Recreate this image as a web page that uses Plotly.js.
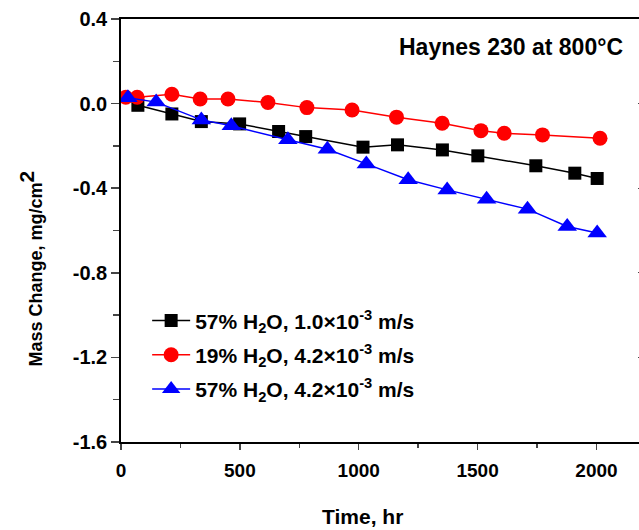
<!DOCTYPE html>
<html>
<head>
<meta charset="utf-8">
<script src="https://cdn.plot.ly/plotly-3.0.1.min.js"></script>
<style>html,body{margin:0;padding:0;overflow:hidden;background:#fff;}</style>
</head>
<body>
<div id="chart" style="width:645px;height:530px;"></div>
<script>
// Series: 57% H2O, 1.0e-3 m/s (black squares)
const timeBlack = [71, 214, 338, 499, 663, 777, 1018, 1163, 1352, 1501, 1745, 1909, 2003];
const massBlack = [-0.008, -0.049, -0.085, -0.096, -0.132, -0.156, -0.206, -0.195, -0.219, -0.247, -0.294, -0.329, -0.354];
// Series: 19% H2O, 4.2e-3 m/s (red circles)
const timeRed = [20, 68, 214, 333, 450, 618, 782, 972, 1159, 1351, 1514, 1612, 1773, 2015];
const massRed = [0.03, 0.03, 0.044, 0.022, 0.022, 0.005, -0.019, -0.030, -0.064, -0.093, -0.128, -0.140, -0.148, -0.164];
// Series: 57% H2O, 4.2e-3 m/s (blue triangles)
const timeBlue = [29, 148, 338, 464, 702, 868, 1032, 1208, 1372, 1538, 1710, 1877, 2003];
const massBlue = [0.028, 0.007, -0.077, -0.105, -0.171, -0.216, -0.285, -0.360, -0.408, -0.452, -0.499, -0.581, -0.612];

const seriesNames = [
  '57% H<sub>2</sub>O, 1.0×10<sup>-3</sup> m/s',
  '19% H<sub>2</sub>O, 4.2×10<sup>-3</sup> m/s',
  '57% H<sub>2</sub>O, 4.2×10<sup>-3</sup> m/s'
];
const xTickVals = [0, 500, 1000, 1500, 2000];
const yTickVals = [0.4, 0.0, -0.4, -0.8, -1.2, -1.6];
const yTickText = ['0.4', '0.0', '-0.4', '-0.8', '-1.2', '-1.6'];

const FONT = 'Liberation Sans, Arial, sans-serif';

const traces = [
  {x: timeBlack, y: massBlack, name: seriesNames[0], legendgroup: 'a', mode: 'lines+markers',
   line: {color: '#000000', width: 1.5}, marker: {symbol: 'square', size: 13, color: '#000000'}},
  {x: timeRed, y: massRed, name: seriesNames[1], legendgroup: 'b', mode: 'lines+markers',
   line: {color: '#ff0000', width: 1.5}, marker: {symbol: 'circle', size: 15, color: '#ff0000'}},
  {x: timeBlue, y: massBlue, name: seriesNames[2], legendgroup: 'c', mode: 'lines+markers',
   line: {color: '#0000ff', width: 1.5}, marker: {symbol: 'triangle-up', size: 17, color: '#0000ff'}},
  {x: [0], y: [0], yaxis: 'y2', showlegend: false, hoverinfo: 'skip', mode: 'markers', marker: {opacity: 0}}
];

const layout = {
  width: 645, height: 530,
  margin: {l: 121, r: 1, t: 19, b: 87.5},
  paper_bgcolor: '#ffffff', plot_bgcolor: '#ffffff',
  font: {family: FONT, color: '#000', size: 16},
  showlegend: true,
  legend: {x: 0.05, y: 0.335, xanchor: 'left', yanchor: 'top', bgcolor: 'rgba(0,0,0,0)',
           font: {family: FONT, size: 21, color: '#000', weight: 'bold'},
           tracegroupgap: 4, itemwidth: 38},
  xaxis: {range: [0, 2200], tickvals: xTickVals, ticks: 'outside', ticklen: 6, tickwidth: 1.5,
          minor: {dtick: 250, ticks: 'outside', ticklen: 4, tickwidth: 1.5},
          showline: true, linewidth: 1.8, linecolor: '#000', mirror: true, showgrid: false, zeroline: false,
          tickfont: {family: FONT, size: 19, color: '#000', weight: 'bold'}, ticklabelstandoff: 4},
  yaxis: {range: [-1.6, 0.4], tickvals: yTickVals, ticktext: yTickText, ticks: 'outside', ticklen: 8, tickwidth: 1.5,
          minor: {dtick: 0.2, ticks: 'outside', ticklen: 6, tickwidth: 1.5},
          showline: true, linewidth: 1.8, linecolor: '#000', mirror: true, showgrid: false, zeroline: false,
          tickfont: {family: FONT, size: 20, color: '#000', weight: 'bold'}, ticklabelstandoff: 0},
  yaxis2: {range: [-1.6, 0.4], overlaying: 'y', side: 'right', tickvals: yTickVals, ticks: 'inside', ticklen: 6,
           minor: {dtick: 0.2, ticks: 'inside', ticklen: 4}, showticklabels: false, showgrid: false, zeroline: false,
           showline: false},
  annotations: [
    {text: 'Haynes 230 at 800°C', xref: 'paper', yref: 'paper', x: 0.963, y: 0.933,
     xanchor: 'right', yanchor: 'middle', showarrow: false,
     font: {family: FONT, size: 23, color: '#000', weight: 'bold'}},
    {text: 'Mass Change, mg/cm<sup><span style="font-size:21px">2</span></sup>', xref: 'paper', yref: 'paper',
     x: -0.172, y: 0.41, xanchor: 'center', yanchor: 'middle', textangle: -90, showarrow: false,
     font: {family: FONT, size: 18, color: '#000', weight: 'bold'}},
    {text: 'Time, hr', xref: 'paper', yref: 'paper', x: 0.461, y: -0.176,
     xanchor: 'center', yanchor: 'middle', showarrow: false,
     font: {family: FONT, size: 21, color: '#000', weight: 'bold'}}
  ]
};

Plotly.newPlot('chart', traces, layout, {displayModeBar: false, staticPlot: true});
</script>
</body>
</html>
